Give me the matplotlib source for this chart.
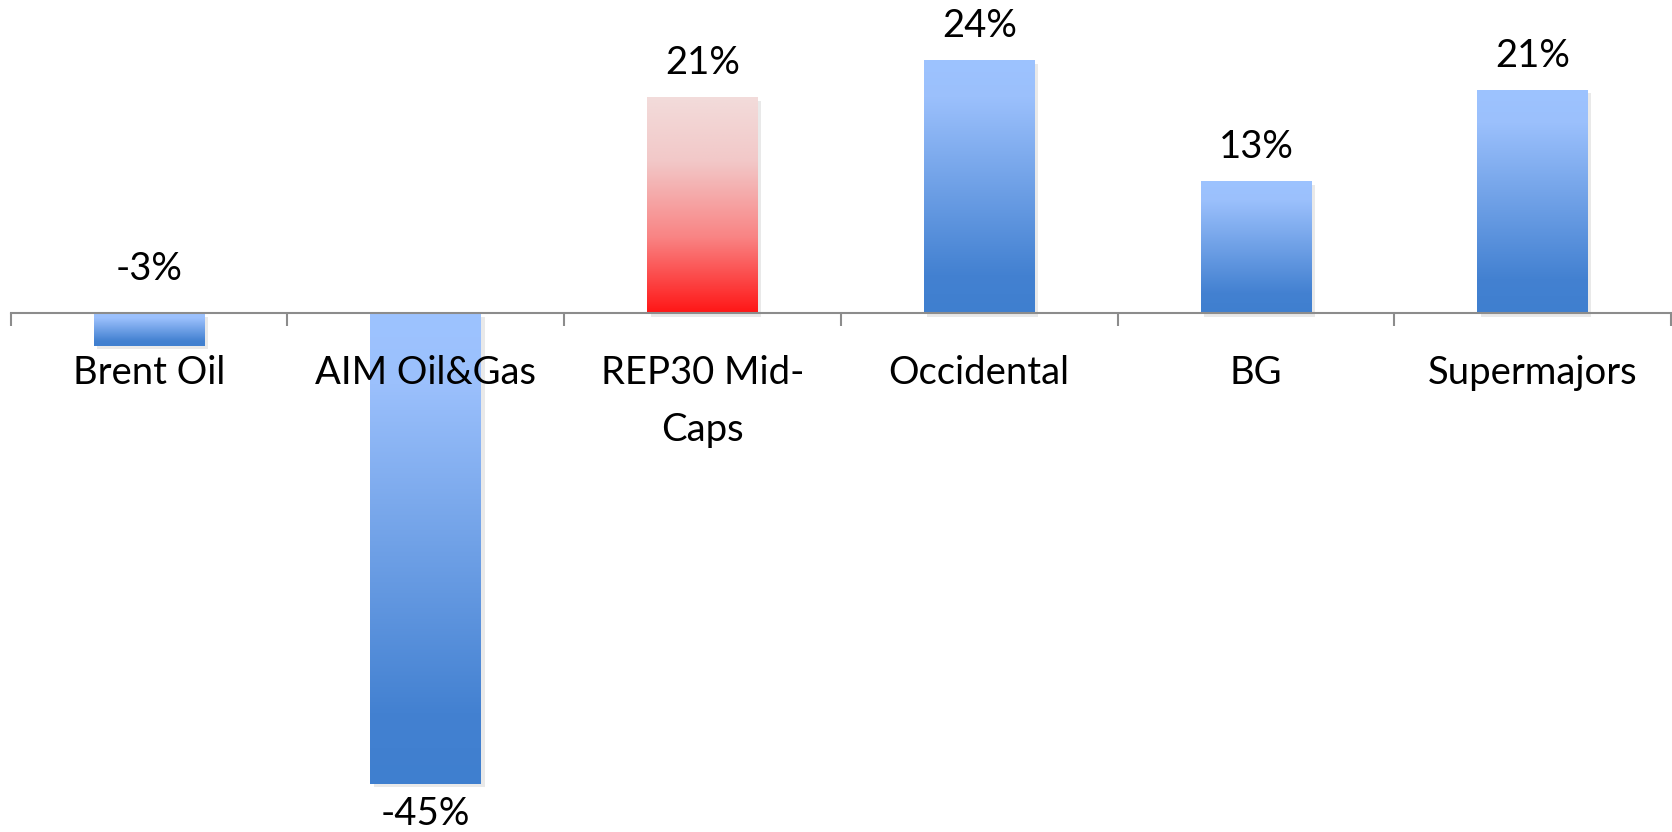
import numpy as np
import matplotlib
matplotlib.use("Agg")
import matplotlib.pyplot as plt
import matplotlib.patheffects as pe
from matplotlib.colors import to_rgb

# data (percent change)
categories = ["Brent Oil", "AIM Oil&Gas", "REP30 Mid-\nCaps", "Occidental", "BG", "Supermajors"]
values = [-3.1, -44.8, 20.6, 24.1, 12.6, 21.3]
highlight = "REP30 Mid-\nCaps"

plt.rcParams['font.family'] = ['Lato', 'DejaVu Sans']

BLUE_STOPS = [(0.0, "#9DC3FF"), (0.15, "#9BC0FC"), (0.85, "#4381D1"), (1.0, "#3F7FCF")]
RED_STOPS = [(0.0, "#F2DCDB"), (0.3, "#F2C8C8"), (0.65, "#F98484"), (1.0, "#FF1616")]
GRAY = "#8C8C8C"
FS = 27.5


def gradient(stops, n=256):
    """Top-to-bottom colour array for imshow."""
    t = np.linspace(0, 1, n)
    pos = [s[0] for s in stops]
    cols = np.array([to_rgb(s[1]) for s in stops])
    rgb = np.stack([np.interp(t, pos, cols[:, k]) for k in range(3)], axis=-1)
    return rgb.reshape(n, 1, 3)


fig = plt.figure(figsize=(16.72, 8.32), dpi=100)
ax = fig.add_axes([10.7 / 1672, 0, 1660.3 / 1672, 1])

x = np.arange(len(categories))
bars = ax.bar(x, values, width=0.4, color="white", zorder=1)

for cat, bar in zip(categories, bars):
    bar.set_path_effects([pe.SimplePatchShadow(offset=(2.5, -2.5), shadow_rgbFace="#888888", alpha=0.18),
                          pe.Normal()])
    x0 = bar.get_x()
    x1 = x0 + bar.get_width()
    y0 = bar.get_y()
    y1 = y0 + bar.get_height()
    lo, hi = min(y0, y1), max(y0, y1)
    stops = RED_STOPS if cat == highlight else BLUE_STOPS
    im = ax.imshow(gradient(stops), extent=[x0, x1, lo, hi], origin="upper",
                   aspect="auto", interpolation="bilinear", zorder=1.5)
    im.set_clip_path(bar)

# value labels
for xi, v in zip(x, values):
    txt = f"{v:.0f}%"
    if v >= 0:
        ax.annotate(txt, (xi, v), xytext=(0, 16.5), textcoords="offset points",
                    ha="center", va="baseline", fontsize=FS)
    elif v > -10:
        # small negative bar: label sits above the axis line
        ax.annotate(txt, (xi, 0), xytext=(0, 24), textcoords="offset points",
                    ha="center", va="baseline", fontsize=FS)
    else:
        ax.annotate(txt, (xi, v), xytext=(0, -30), textcoords="offset points",
                    ha="center", va="baseline", fontsize=FS)

ax.set_xlim(-0.5, len(categories) - 0.5)
ax.set_ylim(-49.4, 29.85)

for side in ["left", "right", "top"]:
    ax.spines[side].set_visible(False)
ax.spines["bottom"].set_position(("data", 0))
ax.spines["bottom"].set_color(GRAY)
ax.spines["bottom"].set_linewidth(1.5)

ax.set_yticks([])
ax.set_xticks(np.arange(len(categories) + 1) - 0.5)
ax.set_xticklabels([])
ax.tick_params(axis="x", which="major", length=9.5, width=1.5, color=GRAY, direction="out")
ax.set_xticks(x, categories, minor=True)
ax.tick_params(axis="x", which="minor", length=0, pad=30, labelsize=FS)
for lbl in ax.get_xticklabels(minor=True):
    lbl.set_linespacing(1.72)

fig.savefig("out.png", dpi=100, facecolor="white")
